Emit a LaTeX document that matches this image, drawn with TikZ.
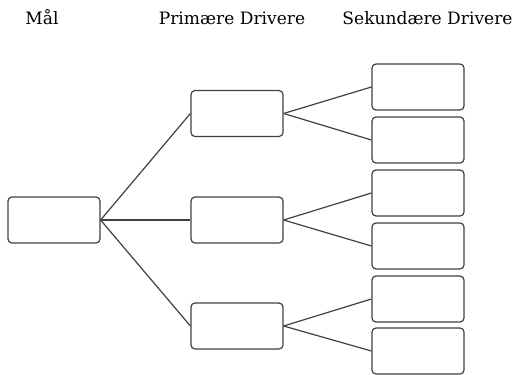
\documentclass[tikz,border=0pt]{standalone}
\usepackage{fontspec}
\setmainfont{DejaVu Serif}
\begin{document}
\begin{tikzpicture}[x=0.75pt,y=-0.75pt,
    boks/.style={draw=black!75, line width=0.9pt, rounded corners=3pt, minimum width=69pt, minimum height=34.5pt, inner sep=0pt},
    streg/.style={draw=black!75, line width=0.9pt},
    overskrift/.style={font=\fontsize{12.8}{15}\selectfont, anchor=base}]
    \useasboundingbox (0,0) rectangle (525,375);

    \node[overskrift] (tmal) at (42,24) {Mål};
    \node[overskrift] (tprim) at (232,24) {Primære Drivere};
    \node[overskrift] (tsek) at (427.5,24) {Sekundære Drivere};

    \node[boks] (mal) at (54,220) {};

    \node[boks] (p1) at (237,113.5) {};
    \node[boks] (p2) at (237,220) {};
    \node[boks] (p3) at (237,326) {};

    \node[boks] (s1) at (418,87) {};
    \node[boks] (s2) at (418,140) {};
    \node[boks] (s3) at (418,193) {};
    \node[boks] (s4) at (418,246) {};
    \node[boks] (s5) at (418,299) {};
    \node[boks] (s6) at (418,351) {};

    \foreach \p in {p1,p2,p3}
        \draw[streg] (mal.east) -- (\p.west);

    \draw[streg] (p1.east) -- (s1.west);
    \draw[streg] (p1.east) -- (s2.west);
    \draw[streg] (p2.east) -- (s3.west);
    \draw[streg] (p2.east) -- (s4.west);
    \draw[streg] (p3.east) -- (s5.west);
    \draw[streg] (p3.east) -- (s6.west);
  \end{tikzpicture}
\end{document}
